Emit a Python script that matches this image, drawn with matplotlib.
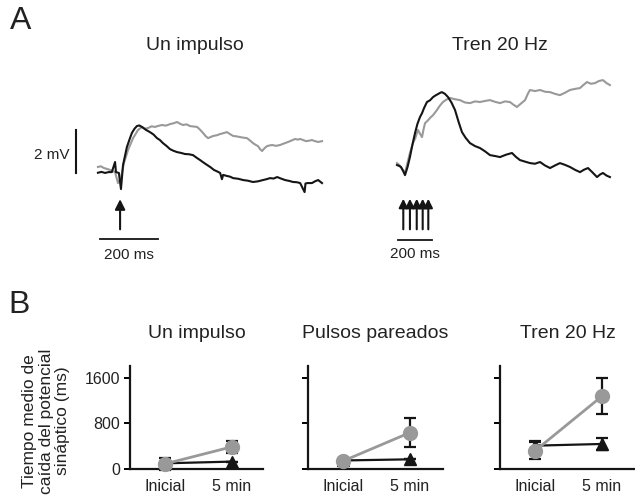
import matplotlib.pyplot as plt

plt.rcParams["font.family"] = ["Liberation Sans", "DejaVu Sans"]

# panel A traces (ms, mV)
t_single_black = [0, 12, 24, 36, 47, 58, 61, 71, 78, 85, 98, 107, 115, 124, 132, 140, 149, 162,
                  176, 188, 200, 210, 220, 232, 244, 256, 268, 282, 295, 308, 322, 334, 346,
                  358, 370, 382, 393, 404, 414, 420, 424, 437, 447, 458, 475, 492, 508, 525,
                  542, 559, 571, 583, 595, 607, 620, 634, 648, 661, 673, 685, 700, 703, 710,
                  725, 735, 746, 759]
v_single_black = [0, 0.04, -0.01, 0.03, 0.03, 0.5, 0.03, -0.01, -0.76, 0.36, 1.19, 1.55,
                  1.85, 2.05, 2.17, 2.2, 2.13, 2.0, 1.89, 1.78, 1.61, 1.52, 1.38, 1.25, 1.10,
                  1.02, 0.96, 0.92, 0.87, 0.86, 0.82, 0.70, 0.59, 0.47, 0.36, 0.25, 0.13, 0.06,
                  -0.01, -0.3, -0.1, -0.15, -0.18, -0.25, -0.28, -0.34, -0.37, -0.43, -0.40,
                  -0.34, -0.30, -0.25, -0.27, -0.20, -0.27, -0.34, -0.38, -0.43, -0.44, -0.48,
                  -0.9, -0.5, -0.48, -0.48, -0.40, -0.34, -0.48]
t_single_gray = [0, 10, 20, 30, 41, 50, 58, 68, 78, 88, 102, 119, 136, 149, 160, 170, 182,
                 193, 205, 217, 230, 244, 256, 268, 278, 288, 300, 312, 324, 336, 346, 356,
                 365, 373, 382, 390, 402, 414, 425, 437, 447, 458, 470, 481, 493, 505, 515,
                 525, 534, 542, 549, 556, 565, 573, 582, 590, 603, 617, 630, 644, 656, 668,
                 677, 685, 695, 705, 715, 725, 735, 746, 759]
v_single_gray = [0.27, 0.30, 0.22, 0.18, 0.13, 0.08, 0.03, -0.48, -0.25, 0.45, 1.06, 1.61,
                 1.99, 2.13, 2.05, 2.08, 2.16, 2.13, 2.18, 2.22, 2.19, 2.26, 2.30, 2.36, 2.28,
                 2.22, 2.25, 2.17, 2.15, 2.13, 2.00, 1.85, 1.70, 1.61, 1.66, 1.71, 1.74, 1.80,
                 1.84, 1.89, 1.80, 1.71, 1.69, 1.66, 1.63, 1.61, 1.50, 1.38, 1.30, 1.24, 1.10,
                 1.01, 1.15, 1.24, 1.27, 1.29, 1.25, 1.29, 1.36, 1.43, 1.50, 1.57, 1.54, 1.57,
                 1.52, 1.47, 1.49, 1.52, 1.47, 1.43, 1.47]
t_train_black = [6, 18, 29, 41, 53, 68, 82, 97, 112, 126, 141, 153, 165, 182, 200, 218, 233,
                 247, 260, 270, 288, 306, 326, 347, 368, 388, 410, 435, 465, 494, 523, 553,
                 582, 612, 647, 682, 705, 729, 758, 788, 817, 847, 876, 906, 935, 964, 993,
                 1023, 1052, 1082, 1105, 1129, 1155, 1182, 1200, 1217, 1238, 1258]
v_train_black = [0.14, 0.10, 0.05, -0.12, -0.33, 0.05, 0.51, 1.10, 1.63, 2.05, 2.37, 2.55,
                 2.79, 3.07, 3.15, 3.30, 3.38, 3.44, 3.50, 3.53, 3.45, 3.30, 3.05, 2.70, 2.15,
                 1.67, 1.40, 1.16, 1.02, 0.93, 0.78, 0.60, 0.56, 0.51, 0.62, 0.70, 0.52, 0.37,
                 0.30, 0.23, 0.20, 0.28, 0.12, 0.0, 0.12, 0.23, 0.15, 0.05, -0.08, -0.19,
                 -0.08, 0.0, -0.20, -0.42, -0.30, -0.23, -0.35, -0.42]
t_train_gray = [6, 18, 29, 41, 53, 68, 82, 100, 114, 129, 141, 153, 162, 171, 186, 200, 218,
                241, 258, 276, 296, 318, 347, 376, 405, 435, 465, 494, 523, 553, 582, 612,
                641, 670, 690, 711, 735, 759, 775, 788, 817, 847, 876, 906, 935, 964, 993,
                1023, 1052, 1082, 1100, 1123, 1146, 1170, 1194, 1217, 1238, 1258]
v_train_gray = [0.23, 0.15, 0.05, -0.10, -0.23, 0.25, 0.70, 1.16, 1.40, 1.77, 1.60, 1.44,
                1.80, 2.09, 2.20, 2.33, 2.46, 2.70, 2.90, 3.07, 3.18, 3.26, 3.20, 3.16, 3.05,
                3.02, 3.10, 3.07, 3.12, 3.16, 3.08, 3.02, 3.10, 3.07, 2.95, 2.84, 3.00, 3.16,
                3.45, 3.63, 3.58, 3.63, 3.55, 3.53, 3.45, 3.39, 3.50, 3.63, 3.68, 3.72, 3.85,
                4.00, 3.92, 3.95, 4.05, 4.09, 3.95, 3.86]
stim_single = [75]
stim_train = [43, 82, 122, 157, 190]

# panel B (ms)
conditions = ["Inicial", "5 min"]
titles_b = ["Un impulso", "Pulsos pareados", "Tren 20 Hz"]
gray_mean = [[90, 390], [140, 640], [320, 1280]]
gray_err = [[100, 110], [40, 250], [150, 320]]
black_mean = [[100, 130], [150, 170], [410, 440]]
black_err = [[0, 0], [0, 0], [90, 110]]
yticks_b = [0, 800, 1600]

W, H = 635, 496
GRAY = "#999999"
BLACK = "#151515"
TXT = "#222222"


def px_axes(fig, x0, y0, x1, y1):
    return fig.add_axes([x0 / W, 1 - y1 / H, (x1 - x0) / W, (y1 - y0) / H])


fig = plt.figure(figsize=(6.35, 4.96), dpi=100)

# %% panel A
fig.text(10 / W, 1 - 21 / H, "A", fontsize=23, color=TXT, ha="left", va="center")
fig.text(195 / W, 1 - 46 / H, "Un impulso", fontsize=14, color=TXT, ha="center", va="center")
fig.text(500 / W, 1 - 46 / H, "Tren 20 Hz", fontsize=14, color=TXT, ha="center", va="center")

# left: 200 ms = 59 px, 2 mV = 43 px
axl = px_axes(fig, 20, 85, 335, 265)
axl.set_xlim(-264, 803)
axl.set_ylim(-4.29, 4.08)
axl.plot(t_single_gray, v_single_gray, color=GRAY, lw=1.5)
axl.plot(t_single_black, v_single_black, color=BLACK, lw=1.5)
for t in stim_single:
    axl.annotate("", xy=(t, -1.1), xytext=(t, -2.76),
                 arrowprops=dict(arrowstyle="-|>", color=BLACK, lw=1.5, mutation_scale=15))
axl.plot([7, 203], [-3.08, -3.08], color=BLACK, lw=1.3)
axl.text(105, -3.83, "200 ms", fontsize=11, color=TXT, ha="center", va="center")
axl.plot([-75, -75], [-0.01, 1.98], color=BLACK, lw=1.5)
axl.text(-95, 0.82, "2 mV", fontsize=11, color=TXT, ha="right", va="center")
axl.axis("off")

# right: 200 ms = 34 px, same mV scale
axr = px_axes(fig, 380, 70, 630, 265)
axr.set_xlim(-94, 1376)
axr.set_ylim(-4.51, 4.56)
axr.plot(t_train_gray, v_train_gray, color=GRAY, lw=1.5)
axr.plot(t_train_black, v_train_black, color=BLACK, lw=1.5)
for t in stim_train:
    axr.annotate("", xy=(t, -1.3), xytext=(t, -2.98),
                 arrowprops=dict(arrowstyle="-|>", color=BLACK, lw=1.5, mutation_scale=13))
axr.plot([12, 212], [-3.35, -3.35], color=BLACK, lw=1.3)
axr.text(112, -4.0, "200 ms", fontsize=11, color=TXT, ha="center", va="center")
axr.axis("off")

# %% panel B
fig.text(8 / W, 1 - 305 / H, "B", fontsize=23, color=TXT, ha="left", va="center")
fig.text(46 / W, 1 - 421 / H, "Tiempo medio de\ncaída del potencial\nsináptico (ms)",
         fontsize=12.5, color=TXT, ha="center", va="center", rotation=90, linespacing=1.1)

boxes = [(130, 263), (308, 443), (500, 635)]
for i, (x0, x1) in enumerate(boxes):
    ax = px_axes(fig, x0, 366, x1, 469)
    ax.set_xlim(-35 / 67, (x1 - x0 - 35) / 67)
    ax.set_ylim(0, 1810)
    xs = range(len(conditions))
    ax.errorbar(xs, black_mean[i], yerr=black_err[i], color=BLACK, lw=1.6, marker="^",
                markersize=9, capsize=4, capthick=1.6, elinewidth=1.6, clip_on=False, zorder=3)
    ax.errorbar(xs, gray_mean[i], yerr=gray_err[i], color=GRAY, lw=2, marker="o",
                markersize=10, ecolor=BLACK, capsize=4, capthick=1.6, elinewidth=1.6,
                clip_on=False, zorder=4)
    for s in ["top", "right"]:
        ax.spines[s].set_visible(False)
    for s in ["left", "bottom"]:
        ax.spines[s].set_linewidth(1.6)
        ax.spines[s].set_color(BLACK)
    ax.set_yticks(yticks_b)
    if i == 0:
        ax.set_yticklabels([str(v) for v in yticks_b])
    else:
        ax.set_yticklabels([])
    ax.tick_params(axis="y", length=4, width=1.4, labelsize=11.5, labelcolor=TXT, pad=3)
    ax.set_xticks(list(xs))
    ax.set_xticklabels(conditions)
    ax.tick_params(axis="x", length=0, labelsize=11.5, labelcolor=TXT, pad=7)
    ax.set_title(titles_b[i], fontsize=14, color=TXT, pad=20)

fig.savefig("out.png", dpi=100)
